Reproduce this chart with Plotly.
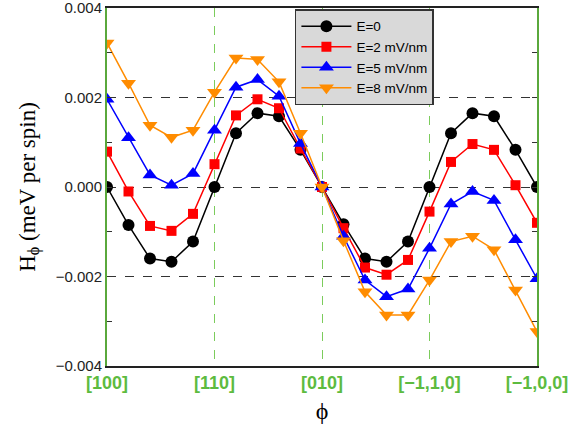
import plotly.graph_objects as go

phi = [0, 9, 18, 27, 36, 45, 54, 63, 72, 81, 90, 99, 108, 117, 126, 135, 144, 153, 162, 171, 180]

e0 = [0.0, -0.00085, -0.00160, -0.00167, -0.00122, 0.0, 0.00120, 0.00165, 0.00158, 0.00083, 0.0,
      -0.00083, -0.00160, -0.00167, -0.00122, 0.0, 0.00120, 0.00165, 0.00158, 0.00083, 0.0]
e2 = [0.00079, -0.00010, -0.00087, -0.00098, -0.00060, 0.00051, 0.00160, 0.00196, 0.00176, 0.00086, 0.0,
      -0.00092, -0.00180, -0.00196, -0.00163, -0.00055, 0.00056, 0.00096, 0.00083, 0.00004, -0.00080]
e5 = [0.00196, 0.00110, 0.00027, 0.00004, 0.00030, 0.00127, 0.00223, 0.00240, 0.00203, 0.00097, 0.0,
      -0.00110, -0.00208, -0.00245, -0.00228, -0.00137, -0.00038, -0.00010, -0.00030, -0.00118, -0.00205]
e8 = [0.00322, 0.00232, 0.00138, 0.00111, 0.00127, 0.00212, 0.00288, 0.00285, 0.00235, 0.00120, 0.0,
      -0.00120, -0.00234, -0.00286, -0.00286, -0.00208, -0.00122, -0.00110, -0.00140, -0.00230, -0.00323]

series = [
    ("E=0", e0, "black", "circle", 12),
    ("E=2 mV/nm", e2, "#ff0000", "square", 10),
    ("E=5 mV/nm", e5, "#0000ff", "triangle-up", 13),
    ("E=8 mV/nm", e8, "#ff8c00", "triangle-down", 13),
]

tick_vals = [0, 45, 90, 135, 180]
tick_text = ["<b>[100]</b>", "<b>[110]</b>", "<b>[010]</b>", "<b>[\u22121,1,0]</b>", "<b>[\u22121,0,0]</b>"]
y_tick_vals = [-0.004, -0.002, 0.0, 0.002, 0.004]
y_tick_text = ["\u22120.004", "\u22120.002", "0.000", "0.002", "0.004"]

fig = go.Figure()
for name, ys, col, sym, sz in series:
    fig.add_trace(go.Scatter(
        x=phi, y=ys, name=name, mode="lines+markers",
        line=dict(color=col, width=1.5),
        marker=dict(color=col, symbol=sym, size=sz),
    ))

green = "#5dbb3f"
fig.update_layout(
    width=571, height=429,
    margin=dict(l=107, r=34, t=8, b=63, autoexpand=False),
    paper_bgcolor="white", plot_bgcolor="white",
    font=dict(family="Liberation Sans", color="black"),
    legend=dict(
        x=0.437, y=0.996, xanchor="left", yanchor="top",
        bgcolor="#d9d9d9", bordercolor="#333333", borderwidth=1.5,
        font=dict(family="Liberation Sans", size=13.5, color="black"),
        tracegroupgap=0, itemwidth=50,
    ),
    xaxis=dict(
        range=[0, 180], tickmode="array", tickvals=tick_vals, ticktext=tick_text,
        tickfont=dict(family="Liberation Sans", size=18, color=green),
        showgrid=True, gridcolor="#7ccc5c", griddash="dash", gridwidth=1,
        zeroline=False, showline=True, linecolor="#222222", linewidth=1.5, mirror=True,
        ticks="", automargin=False, ticklabeloverflow="allow",
        title=dict(text="\u03d5", font=dict(family="Liberation Serif", size=24, color="black"), standoff=10),
    ),
    yaxis=dict(
        range=[-0.004, 0.004], tickmode="array", tickvals=y_tick_vals, ticktext=y_tick_text,
        tickfont=dict(family="Liberation Sans", size=15, color="#222222"),
        showgrid=True, gridcolor="#333333", griddash="dash", gridwidth=1,
        zeroline=False, showline=True, linecolor="#5aa83c", linewidth=2, mirror="ticks",
        ticks="inside", ticklen=5, tickcolor="#333333", automargin=False,
        ticklabeloverflow="allow",
        minor=dict(tickvals=[-0.003, -0.001, 0.001, 0.003], ticks="inside", ticklen=5,
                   tickcolor="#333333", showgrid=False),
        title=dict(text="H<sub>\u03d5</sub> (meV per spin)",
                   font=dict(family="Liberation Serif", size=23, color="black"), standoff=14),
    ),
)

fig.write_html("out.html", config={"displayModeBar": False})

with open("out.html", "r", encoding="utf-8") as f:
    html = f.read()
html = html.replace("<head>", "<head><style>html,body{margin:0;padding:0;}</style>", 1)
with open("out.html", "w", encoding="utf-8") as f:
    f.write(html)
